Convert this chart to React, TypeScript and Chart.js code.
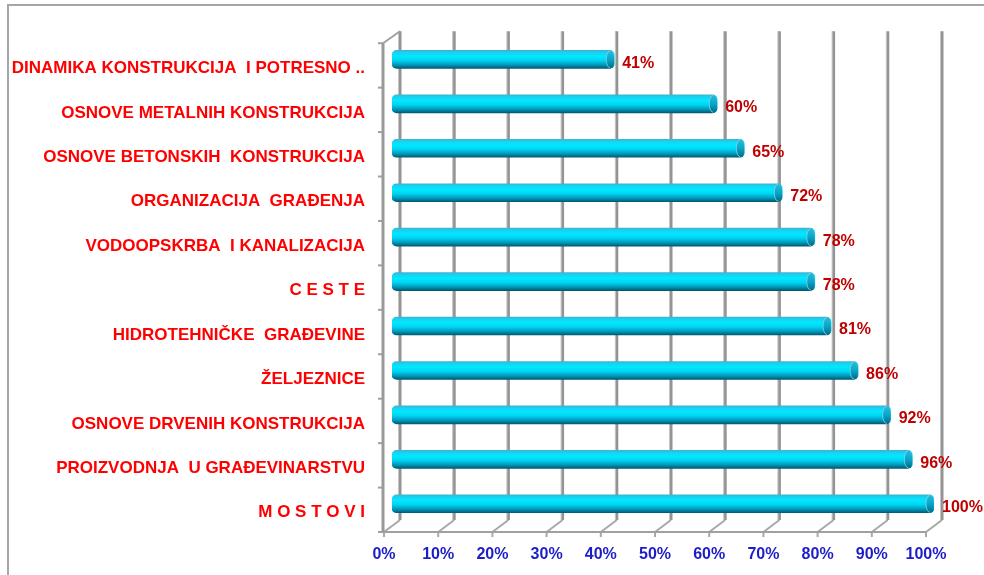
import React, { useEffect, useRef } from 'react';
import { Chart, registerables } from 'chart.js';

Chart.register(...registerables);

const categories = [
  'DINAMIKA KONSTRUKCIJA  I POTRESNO ..',
  'OSNOVE METALNIH KONSTRUKCIJA',
  'OSNOVE BETONSKIH  KONSTRUKCIJA',
  'ORGANIZACIJA  GRAĐENJA',
  'VODOOPSKRBA  I KANALIZACIJA',
  'C E S T E',
  'HIDROTEHNIČKE  GRAĐEVINE',
  'ŽELJEZNICE',
  'OSNOVE DRVENIH KONSTRUKCIJA',
  'PROIZVODNJA  U GRAĐEVINARSTVU',
  'M O S T O V I',
];

const values = [41, 60, 65, 72, 78, 78, 81, 86, 92, 96, 100];

const tickLabels = ['0%', '10%', '20%', '30%', '40%', '50%', '60%', '70%', '80%', '90%', '100%'];

const FONT = "'Liberation Sans', Arial, sans-serif";
const DX = 8;
const DY = 6;
const BAR_H = 18;

export default function App() {
  const ref = useRef<HTMLCanvasElement>(null);

  useEffect(() => {
    const canvas = ref.current;
    if (!canvas) return;

    const frame = {
      id: 'frame',
      beforeDraw(chart: any) {
        const ctx = chart.ctx;
        ctx.save();
        ctx.strokeStyle = '#a6a6a6';
        ctx.lineWidth = 2;
        ctx.beginPath();
        ctx.moveTo(8, 575);
        ctx.lineTo(8, 5);
        ctx.lineTo(984, 5);
        ctx.stroke();
        ctx.restore();
      },
    };

    const wall = {
      id: 'wall',
      beforeDatasetsDraw(chart: any) {
        const { ctx, chartArea: a, scales } = chart;
        const x = scales.x;
        const top = a.top;
        const bot = a.bottom;
        const fTop = top + DY;
        const fBot = bot + DY;
        const bTop = top - DY;
        const bBot = bot - DY;
        const pxs: number[] = x.ticks.map((t: any) => x.getPixelForValue(t.value));
        ctx.save();
        ctx.lineCap = 'butt';
        pxs.forEach((px) => {
          ctx.strokeStyle = '#949494';
          ctx.lineWidth = 3;
          ctx.beginPath();
          ctx.moveTo(px + DX, bTop);
          ctx.lineTo(px + DX, bBot);
          ctx.stroke();
          ctx.strokeStyle = '#c6c6c6';
          ctx.lineWidth = 1;
          ctx.beginPath();
          ctx.moveTo(px + DX - 1.5, bTop);
          ctx.lineTo(px + DX - 1.5, bBot);
          ctx.stroke();
        });
        ctx.strokeStyle = '#a8a8a8';
        ctx.lineWidth = 2;
        pxs.forEach((px) => {
          ctx.beginPath();
          ctx.moveTo(px - DX, fBot);
          ctx.lineTo(px + DX, bBot);
          ctx.stroke();
          ctx.beginPath();
          ctx.moveTo(px - DX, fBot);
          ctx.lineTo(px - DX, fBot + 5);
          ctx.stroke();
        });
        const x0 = pxs[0] - DX - 1;
        const xN = pxs[pxs.length - 1] - DX;
        ctx.strokeStyle = '#a0a0a0';
        ctx.lineWidth = 2;
        ctx.beginPath();
        ctx.moveTo(x0, fBot);
        ctx.lineTo(xN, fBot);
        ctx.stroke();
        ctx.beginPath();
        ctx.moveTo(x0, fTop);
        ctx.lineTo(pxs[0] + DX, bTop);
        ctx.stroke();
        const n = categories.length;
        for (let k = 0; k <= n; k++) {
          const yb = fTop + (k * (bot - top)) / n;
          ctx.beginPath();
          ctx.moveTo(x0 - 5, yb);
          ctx.lineTo(x0, yb);
          ctx.stroke();
        }
        ctx.strokeStyle = '#9a9a9a';
        ctx.lineWidth = 3;
        ctx.beginPath();
        ctx.moveTo(x0, fTop);
        ctx.lineTo(x0, fBot);
        ctx.stroke();
        ctx.restore();
      },
    };

    const caps = {
      id: 'capsAndLabels',
      afterDatasetsDraw(chart: any) {
        const ctx = chart.ctx;
        const meta = chart.getDatasetMeta(0);
        ctx.save();
        meta.data.forEach((el: any, i: number) => {
          const ex = el.x;
          const ey = el.y;
          const g = ctx.createLinearGradient(0, ey - BAR_H / 2, 0, ey + BAR_H / 2);
          g.addColorStop(0, '#33b8d8');
          g.addColorStop(0.5, '#0aa6c8');
          g.addColorStop(1, '#006a86');
          ctx.fillStyle = g;
          ctx.beginPath();
          ctx.ellipse(ex - 4, ey, 4, BAR_H / 2, 0, 0, Math.PI * 2);
          ctx.fill();
          ctx.strokeStyle = 'rgba(120,220,240,0.8)';
          ctx.lineWidth = 1;
          ctx.beginPath();
          ctx.ellipse(ex - 4, ey, 4, BAR_H / 2 - 0.5, 0, Math.PI * 0.5, Math.PI * 1.5);
          ctx.stroke();

          ctx.fillStyle = '#c00000';
          ctx.font = `bold 16px ${FONT}`;
          ctx.textAlign = 'left';
          ctx.textBaseline = 'middle';
          ctx.fillText(`${values[i]}%`, ex + 8, ey + 4);
        });
        ctx.restore();
      },
    };

    const chart = new Chart(canvas, {
      type: 'bar',
      data: {
        labels: categories,
        datasets: [
          {
            data: values,
            barThickness: BAR_H,
            borderWidth: 0,
            borderRadius: 5,
            borderSkipped: false,
            backgroundColor: (c: any) => {
              const ch = c.chart;
              const ys = ch.scales && ch.scales.y;
              if (!ys || c.dataIndex == null) return '#00d8f5';
              const yc = ys.getPixelForValue(c.dataIndex);
              if (!isFinite(yc)) return '#00d8f5';
              const g = ch.ctx.createLinearGradient(0, yc - BAR_H / 2, 0, yc + BAR_H / 2);
              g.addColorStop(0, '#3cb4d4');
              g.addColorStop(0.12, '#18d2f2');
              g.addColorStop(0.32, '#00e8ff');
              g.addColorStop(0.55, '#00d4f2');
              g.addColorStop(0.8, '#0099ba');
              g.addColorStop(1, '#005a74');
              return g;
            },
          } as any,
        ],
      },
      options: {
        indexAxis: 'y',
        responsive: false,
        animation: false,
        devicePixelRatio: 1,
        layout: { padding: { left: 0, top: 36, right: 50, bottom: 0 } },
        plugins: {
          legend: { display: false },
          tooltip: { enabled: false },
        },
        scales: {
          x: {
            type: 'linear',
            position: 'bottom',
            min: 0,
            max: 100,
            grid: { display: false, drawTicks: false },
            border: { display: false },
            ticks: {
              stepSize: 10,
              autoSkip: false,
              maxRotation: 0,
              padding: 19,
              labelOffset: -DX,
              color: '#1c1cc8',
              font: { family: FONT, size: 16, weight: 'bold' },
              callback: (_v: any, i: number) => tickLabels[i],
            },
            afterFit: (s: any) => {
              s.height = 49;
            },
          },
          y: {
            type: 'category',
            grid: { display: false, drawTicks: false },
            border: { display: false },
            ticks: {
              autoSkip: false,
              padding: 27,
              labelOffset: 9,
              color: '#ff0000',
              font: { family: FONT, size: 17, weight: 'bold' },
            },
            afterFit: (s: any) => {
              s.width = 392;
            },
          },
        },
      } as any,
      plugins: [frame, wall, caps],
    });

    return () => chart.destroy();
  }, []);

  return (
    <div style={{ position: 'fixed', left: 0, top: 0, width: 984, height: 575, overflow: 'hidden', background: '#ffffff' }}>
      <canvas ref={ref} width={984} height={575} style={{ display: 'block', width: 984, height: 575 }} />
    </div>
  );
}
